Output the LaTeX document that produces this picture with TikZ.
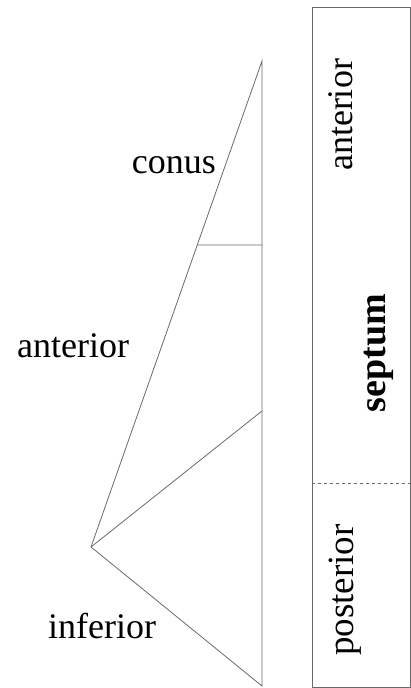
\documentclass[tikz,border=0pt]{standalone}
\usepackage{fontspec}
\setmainfont{Liberation Serif}
\usepackage{xcolor}
\usepackage{tikz}
\usetikzlibrary{calc}
\definecolor{linegray}{RGB}{105,105,105}
\tikzset{
  segline/.style={draw=linegray, line width=0.8pt},
  label text/.style={font=\fontsize{36}{40}\selectfont, inner sep=0pt},
  side text/.style={label text, rotate=90, anchor=base},
}

\begin{document}
\begin{tikzpicture}[x=1pt, y=-1pt]
  \useasboundingbox (0,0) rectangle (411,688);
  % triangle of segments
  \coordinate (apex) at (262,61);
  \coordinate (tip) at (91,547);
  \coordinate (foot) at (262,686);
  \coordinate (mid) at (262,411);
  \coordinate (conusR) at (262,245);
  \coordinate (conusL) at ($(tip)!0.6214!(apex)$);

  \draw[segline] (tip) -- (apex) -- (foot) -- cycle;
  \draw[segline] (conusL) -- (conusR);
  \draw[segline] (tip) -- (mid);

  \node[label text, anchor=base east] (conus) at (216,173) {conus};
  \node[label text, anchor=base west] (ant) at (17,357) {anterior};
  \node[label text, anchor=base west] (inf) at (48,638) {inferior};

  % septum bar
  \coordinate (barTL) at (312,7);
  \coordinate (barBR) at (410,687);
  \draw[segline] (barTL) rectangle (barBR);
  \draw[segline, dashed, line width=0.5pt] (312,483) -- (410,483);

  \node[side text] (sAnt) at (352,115) {anterior};
  \node[side text, font=\fontsize{38}{42}\selectfont\bfseries] (sSep) at (385,353) {septum};
  \node[side text, font=\fontsize{37}{41}\selectfont] (sPost) at (353,590) {posterior};
\end{tikzpicture}
\end{document}
